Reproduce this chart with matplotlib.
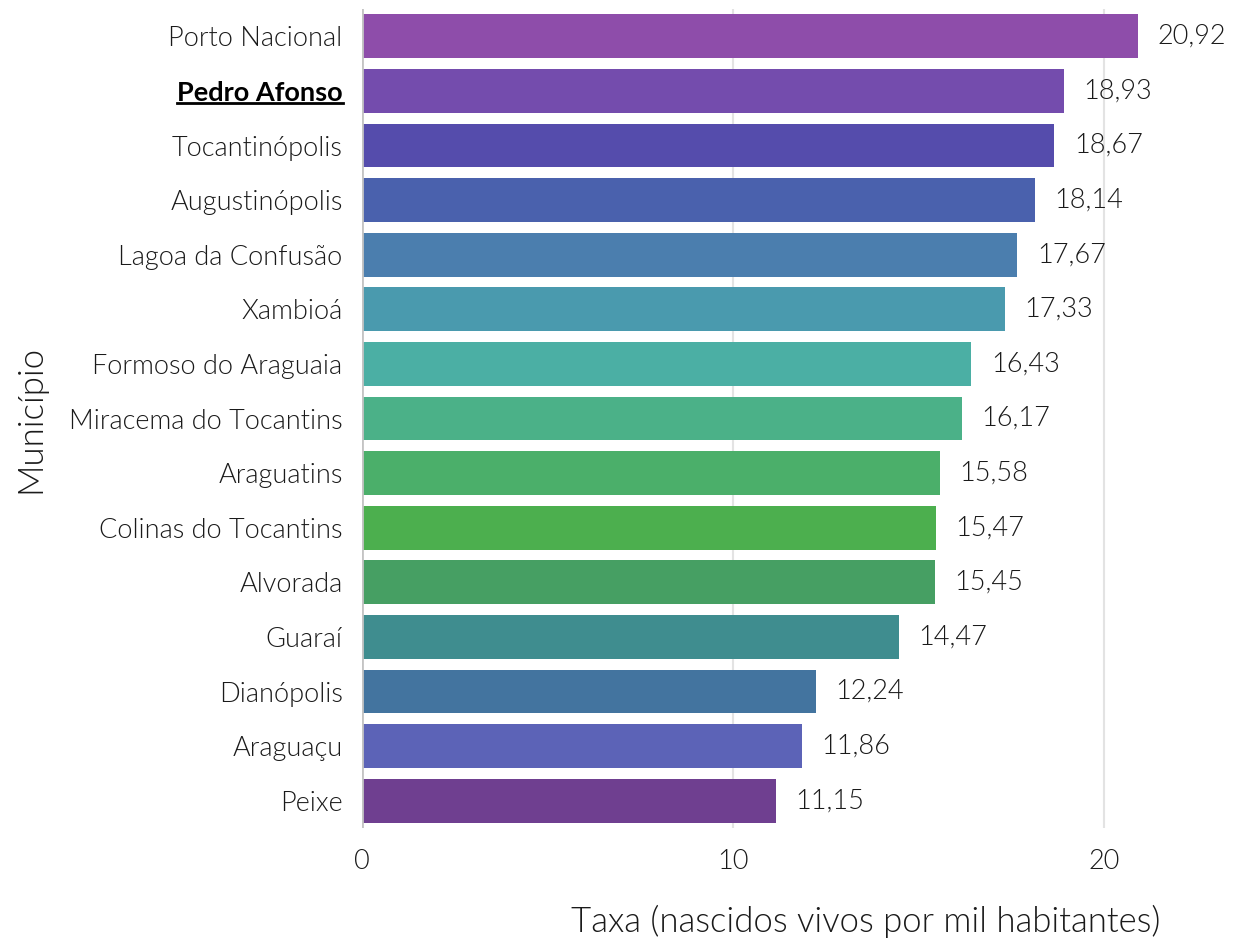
import os
import matplotlib
matplotlib.use("Agg")
import matplotlib.pyplot as plt
from matplotlib import font_manager as fm
from matplotlib.lines import Line2D

# Taxa de natalidade por município (top -> bottom)
municipios = ["Porto Nacional", "Pedro Afonso", "Tocantinópolis", "Augustinópolis",
              "Lagoa da Confusão", "Xambioá", "Formoso do Araguaia", "Miracema do Tocantins",
              "Araguatins", "Colinas do Tocantins", "Alvorada", "Guaraí", "Dianópolis",
              "Araguaçu", "Peixe"]
taxas = [20.92, 18.93, 18.67, 18.14, 17.67, 17.33, 16.43, 16.17,
         15.58, 15.47, 15.45, 14.47, 12.24, 11.86, 11.15]
cores = ["#8E4DAA", "#744CAD", "#554CAC", "#4A61AD", "#4B7EAE", "#4A9AAE", "#4BAFA4",
         "#4BB188", "#4BAF6A", "#4CAF4E", "#469F63", "#3F8D8F", "#43749F", "#5C63B7",
         "#6F3F90"]
destaque = "Pedro Afonso"


def lato(nome, size, fallback_weight):
    # pega o arquivo exato da fonte (evita cair no Hairline/Thin)
    for p in fm.findSystemFonts():
        if os.path.basename(p).lower().startswith(nome.lower() + "."):
            return fm.FontProperties(fname=p, size=size)
    return fm.FontProperties(family=["Lato", "DejaVu Sans"], weight=fallback_weight, size=size)


fp_tick = lato("Lato-Light", 19.5, "light")
fp_bold = lato("Lato-Bold", 19.5, "bold")
fp_lab = lato("Lato-Light", 25, "light")
txt = "#1a1a1a"

fig = plt.figure(figsize=(12.34, 9.39), dpi=100)
ax = fig.add_axes([0.2934, 0.1182, 0.6912, 0.8722])

pos = list(range(len(municipios)))
ax.barh(pos, taxas, height=0.8, color=cores, zorder=2)
ax.set_ylim(len(municipios) - 0.5, -0.5)
ax.set_xlim(0, 23)

for y, v in zip(pos, taxas):
    ax.annotate(f"{v:.2f}".replace(".", ","), (v, y), xytext=(14, 0), textcoords="offset points",
                va="center", ha="left", fontproperties=fp_tick, color=txt)

ax.set_yticks(pos)
ax.set_yticklabels(municipios)
ax.set_xticks([0, 10, 20])
ax.tick_params(axis="y", length=0, pad=14, labelcolor=txt)
ax.tick_params(axis="x", length=0, pad=15, labelcolor=txt)
for lbl in ax.get_yticklabels() + ax.get_xticklabels():
    lbl.set_fontproperties(fp_tick)

for s in ax.spines.values():
    s.set_visible(False)
ax.grid(axis="x", color="#e3e3e3", linewidth=1.5, zorder=0)
ax.axvline(0, color="#c4c4c4", linewidth=2, zorder=3)

ax.set_ylabel("Município", fontproperties=fp_lab, color=txt)
ax.set_xlabel("Taxa (nascidos vivos por mil habitantes)", fontproperties=fp_lab, color=txt)
ax.xaxis.set_label_coords(0.591, -0.094)
ax.yaxis.set_label_coords(-0.37, 0.5)

# destaque: negrito + sublinhado
for lbl in ax.get_yticklabels():
    if lbl.get_text() == destaque:
        lbl.set_fontproperties(fp_bold)
        lbl.set_color("black")

fig.canvas.draw()
r = fig.canvas.get_renderer()
for lbl in ax.get_yticklabels():
    if lbl.get_text() == destaque:
        bb = lbl.get_window_extent(renderer=r)
        W, H = fig.bbox.width, fig.bbox.height
        yl = (bb.y0 + 1.5) / H
        fig.add_artist(Line2D([bb.x0 / W, bb.x1 / W], [yl, yl], color="black", linewidth=2))

fig.savefig("out.png", dpi=100)
